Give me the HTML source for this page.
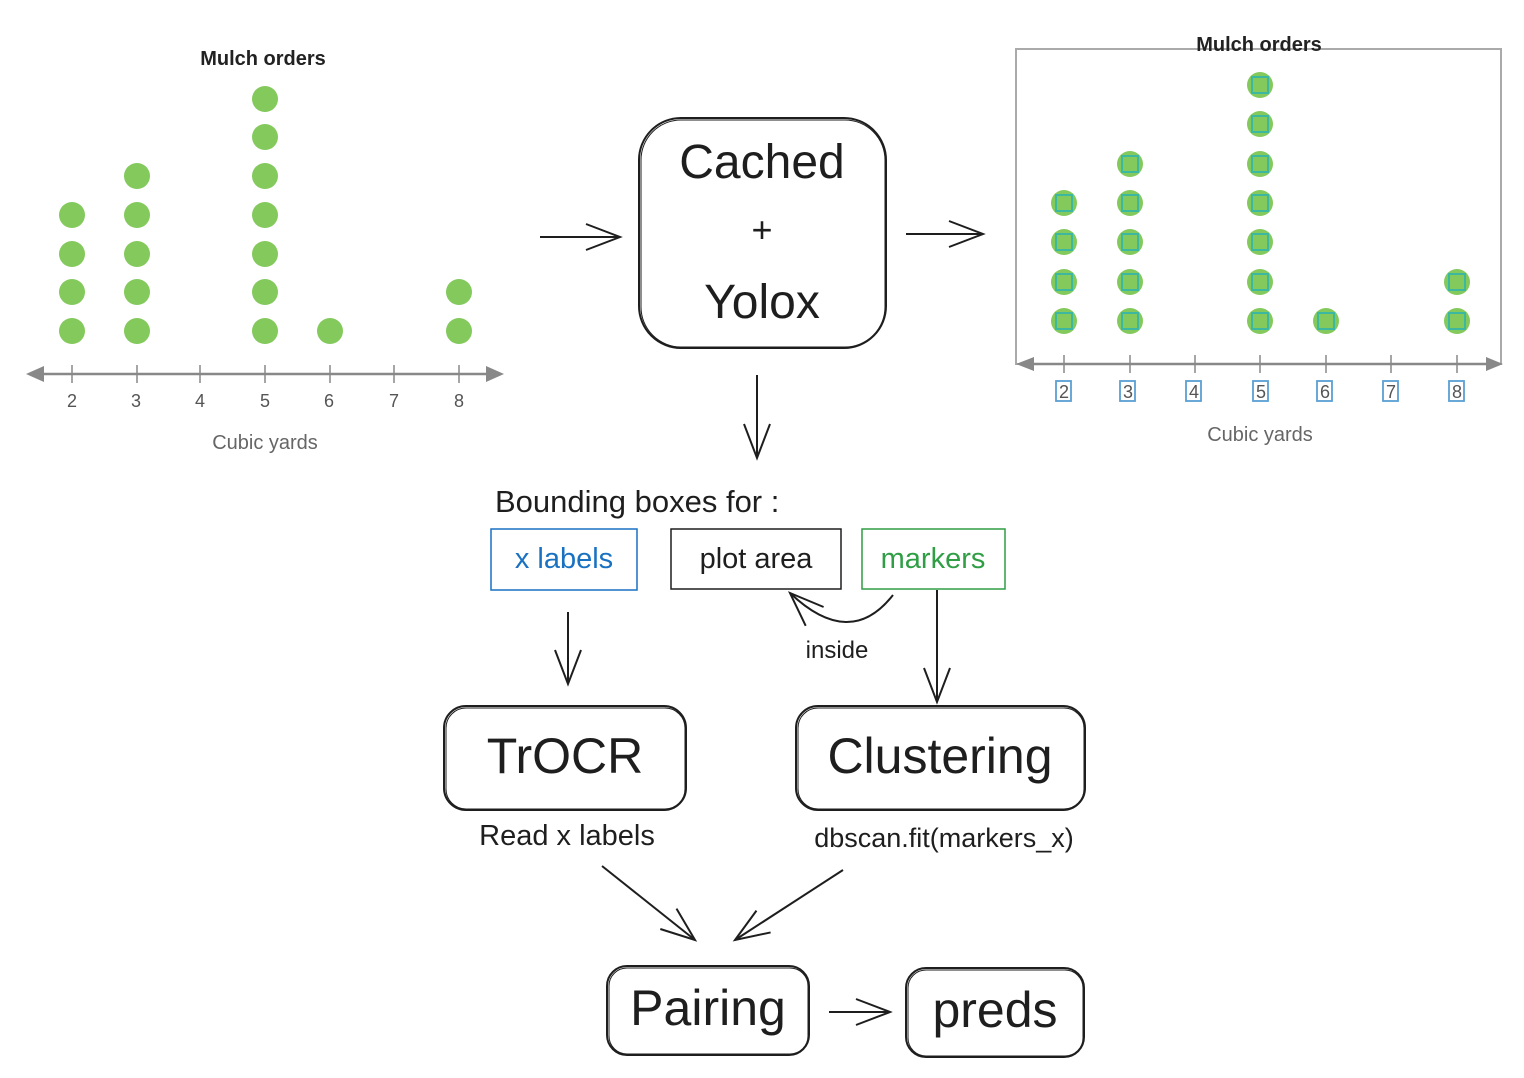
<!DOCTYPE html>
<html><head><meta charset="utf-8"><style>
html,body{margin:0;padding:0;background:#fff;}
svg{display:block;}
.h{font-family:"Liberation Sans",sans-serif;}
</style></head><body>
<svg width="1524" height="1078" viewBox="0 0 1524 1078" xmlns="http://www.w3.org/2000/svg">
<defs>
<marker id="ahb" markerWidth="40" markerHeight="40" refX="36" refY="20" orient="auto" markerUnits="userSpaceOnUse"><path d="M2,7 L36,20 L2,33" fill="none" stroke="#1e1e1e" stroke-width="2"/></marker>
</defs>
<g class="h">
<text x="263" y="65" text-anchor="middle" font-size="20" font-weight="bold" fill="#222">Mulch orders</text>
<g fill="#83c95c">
<circle cx="72" cy="331" r="13"/><circle cx="72" cy="292" r="13"/><circle cx="72" cy="254" r="13"/><circle cx="72" cy="215" r="13"/>
<circle cx="137" cy="331" r="13"/><circle cx="137" cy="292" r="13"/><circle cx="137" cy="254" r="13"/><circle cx="137" cy="215" r="13"/><circle cx="137" cy="176" r="13"/>
<circle cx="265" cy="331" r="13"/><circle cx="265" cy="292" r="13"/><circle cx="265" cy="254" r="13"/><circle cx="265" cy="215" r="13"/><circle cx="265" cy="176" r="13"/><circle cx="265" cy="137" r="13"/><circle cx="265" cy="99" r="13"/>
<circle cx="330" cy="331" r="13"/>
<circle cx="459" cy="331" r="13"/><circle cx="459" cy="292" r="13"/>
</g>
<line x1="36" y1="374" x2="494" y2="374" stroke="#888" stroke-width="2.5"/>
<path d="M26,374 L44,366 L44,382Z M504,374 L486,366 L486,382Z" fill="#888"/>
<g stroke="#888" stroke-width="1.5"><line x1="72" y1="365" x2="72" y2="383"/><line x1="137" y1="365" x2="137" y2="383"/><line x1="200" y1="365" x2="200" y2="383"/><line x1="265" y1="365" x2="265" y2="383"/><line x1="330" y1="365" x2="330" y2="383"/><line x1="394" y1="365" x2="394" y2="383"/><line x1="459" y1="365" x2="459" y2="383"/></g>
<g font-size="18" fill="#555" text-anchor="middle"><text x="72" y="407">2</text><text x="136" y="407">3</text><text x="200" y="407">4</text><text x="265" y="407">5</text><text x="329" y="407">6</text><text x="394" y="407">7</text><text x="459" y="407">8</text></g>
<text x="265" y="449" text-anchor="middle" font-size="20" fill="#666">Cubic yards</text>
</g>
<g class="h">
<rect x="1016" y="49" width="485" height="315" fill="none" stroke="#aaa" stroke-width="2"/>
<text x="1259" y="51" text-anchor="middle" font-size="20" font-weight="bold" fill="#222">Mulch orders</text>
<g fill="#83c95c">
<circle cx="1064" cy="321" r="13"/><circle cx="1064" cy="282" r="13"/><circle cx="1064" cy="242" r="13"/><circle cx="1064" cy="203" r="13"/>
<circle cx="1130" cy="321" r="13"/><circle cx="1130" cy="282" r="13"/><circle cx="1130" cy="242" r="13"/><circle cx="1130" cy="203" r="13"/><circle cx="1130" cy="164" r="13"/>
<circle cx="1260" cy="321" r="13"/><circle cx="1260" cy="282" r="13"/><circle cx="1260" cy="242" r="13"/><circle cx="1260" cy="203" r="13"/><circle cx="1260" cy="164" r="13"/><circle cx="1260" cy="124" r="13"/><circle cx="1260" cy="85" r="13"/>
<circle cx="1326" cy="321" r="13"/>
<circle cx="1457" cy="321" r="13"/><circle cx="1457" cy="282" r="13"/>
</g>
<g fill="none" stroke="#3cb8a0" stroke-width="2">
<rect x="1056" y="313" width="16" height="16"/><rect x="1056" y="274" width="16" height="16"/><rect x="1056" y="234" width="16" height="16"/><rect x="1056" y="195" width="16" height="16"/>
<rect x="1122" y="313" width="16" height="16"/><rect x="1122" y="274" width="16" height="16"/><rect x="1122" y="234" width="16" height="16"/><rect x="1122" y="195" width="16" height="16"/><rect x="1122" y="156" width="16" height="16"/>
<rect x="1252" y="313" width="16" height="16"/><rect x="1252" y="274" width="16" height="16"/><rect x="1252" y="234" width="16" height="16"/><rect x="1252" y="195" width="16" height="16"/><rect x="1252" y="156" width="16" height="16"/><rect x="1252" y="116" width="16" height="16"/><rect x="1252" y="77" width="16" height="16"/>
<rect x="1318" y="313" width="16" height="16"/>
<rect x="1449" y="313" width="16" height="16"/><rect x="1449" y="274" width="16" height="16"/>
</g>
<line x1="1026" y1="364" x2="1494" y2="364" stroke="#888" stroke-width="2.5"/>
<path d="M1016,364 L1034,357 L1034,371Z M1503,364 L1486,357 L1486,371Z" fill="#888"/>
<g stroke="#888" stroke-width="1.5"><line x1="1064" y1="355" x2="1064" y2="373"/><line x1="1130" y1="355" x2="1130" y2="373"/><line x1="1195" y1="355" x2="1195" y2="373"/><line x1="1260" y1="355" x2="1260" y2="373"/><line x1="1326" y1="355" x2="1326" y2="373"/><line x1="1391" y1="355" x2="1391" y2="373"/><line x1="1457" y1="355" x2="1457" y2="373"/></g>
<g font-size="18" fill="#555" text-anchor="middle"><text x="1064" y="398">2</text><text x="1128" y="398">3</text><text x="1194" y="398">4</text><text x="1261" y="398">5</text><text x="1325" y="398">6</text><text x="1391" y="398">7</text><text x="1457" y="398">8</text></g>
<g fill="none" stroke="#5a9fd4" stroke-width="1.8"><rect x="1056" y="381" width="15" height="20"/><rect x="1120" y="381" width="15" height="20"/><rect x="1186" y="381" width="15" height="20"/><rect x="1253" y="381" width="15" height="20"/><rect x="1317" y="381" width="15" height="20"/><rect x="1383" y="381" width="15" height="20"/><rect x="1449" y="381" width="15" height="20"/></g>
<text x="1260" y="441" text-anchor="middle" font-size="20" fill="#666">Cubic yards</text>
</g>
<g fill="none" stroke="#1e1e1e" stroke-width="2">
<rect x="639" y="118" width="247" height="230" rx="42"/>
<rect x="641" y="120" width="244" height="227" rx="40" stroke-width="1"/>
<rect x="444" y="706" width="242" height="104" rx="22"/>
<rect x="446" y="708" width="239" height="101" rx="20" stroke-width="1"/>
<rect x="796" y="706" width="289" height="104" rx="22"/>
<rect x="798" y="708" width="286" height="101" rx="20" stroke-width="1"/>
<rect x="607" y="966" width="202" height="89" rx="20"/>
<rect x="609" y="968" width="199" height="86" rx="18" stroke-width="1"/>
<rect x="906" y="968" width="178" height="89" rx="20"/>
<rect x="908" y="970" width="175" height="86" rx="18" stroke-width="1"/>
<rect x="491" y="529" width="146" height="61" stroke="#1971c2" stroke-width="1.5"/>
<rect x="671" y="529" width="170" height="60" stroke-width="1.5"/>
<rect x="862" y="529" width="143" height="60" stroke="#2f9e44" stroke-width="1.5"/>
</g>
<g class="h" fill="#1e1e1e" text-anchor="middle">
<text x="762" y="178" font-size="48">Cached</text>
<text x="762" y="242" font-size="36">+</text>
<text x="762" y="318" font-size="48">Yolox</text>
<text x="565" y="773" font-size="50">TrOCR</text>
<text x="940" y="773" font-size="50">Clustering</text>
<text x="708" y="1025" font-size="50">Pairing</text>
<text x="995" y="1027" font-size="50">preds</text>
<text x="495" y="512" font-size="31" text-anchor="start">Bounding boxes for :</text>
<text x="564" y="568" font-size="29" fill="#1971c2">x labels</text>
<text x="756" y="568" font-size="29">plot area</text>
<text x="933" y="568" font-size="29" fill="#2f9e44">markers</text>
<text x="837" y="658" font-size="24">inside</text>
<text x="567" y="845" font-size="29">Read x labels</text>
<text x="944" y="847" font-size="27">dbscan.fit(markers_x)</text>
</g>
<g fill="none" stroke="#1e1e1e" stroke-width="2">
<line x1="540" y1="237" x2="620" y2="237" marker-end="url(#ahb)"/>
<line x1="906" y1="234" x2="983" y2="234" marker-end="url(#ahb)"/>
<line x1="757" y1="375" x2="757" y2="458" marker-end="url(#ahb)"/>
<line x1="568" y1="612" x2="568" y2="684" marker-end="url(#ahb)"/>
<line x1="937" y1="590" x2="937" y2="702" marker-end="url(#ahb)"/>
<path d="M893,595 Q850,650 790,593" marker-end="url(#ahb)"/>
<line x1="602" y1="866" x2="695" y2="940" marker-end="url(#ahb)"/>
<line x1="843" y1="870" x2="735" y2="940" marker-end="url(#ahb)"/>
<line x1="829" y1="1012" x2="890" y2="1012" marker-end="url(#ahb)"/>
</g>
</svg>
</body></html>
